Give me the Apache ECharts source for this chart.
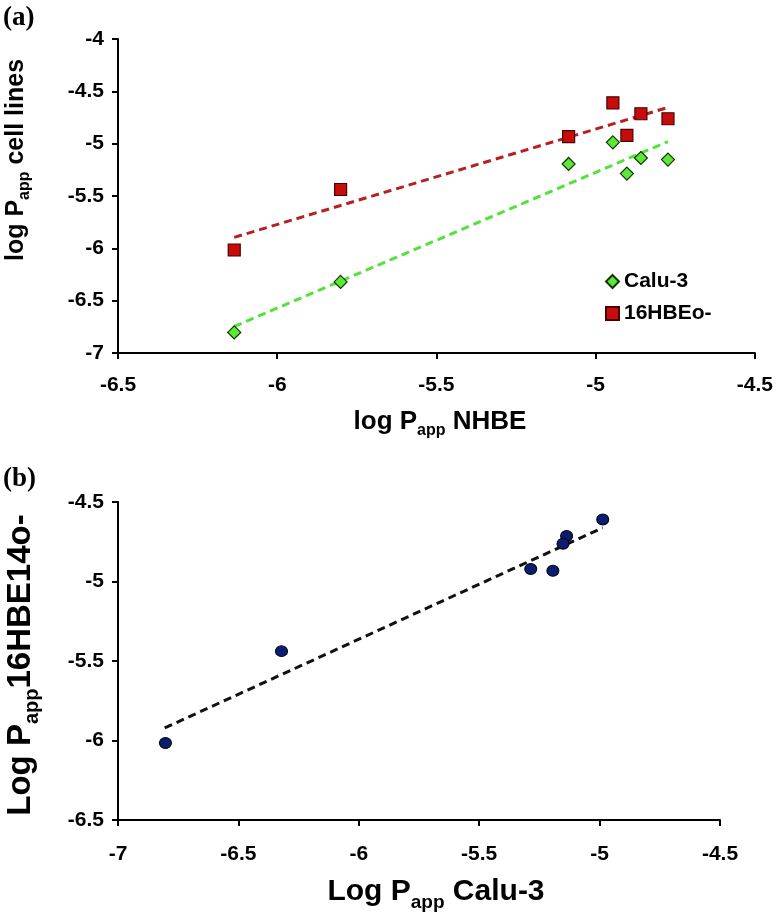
<!DOCTYPE html>
<html lang="en">
<head>
    <meta charset="UTF-8">
    <title>log Papp cell lines vs NHBE</title>
    <style>
        html, body {
            margin: 0;
            padding: 0;
            background: #ffffff;
        }
        #chart {
            width: 776px;
            height: 915px;
        }
    </style>
    <script src="https://cdn.jsdelivr.net/npm/echarts@6/dist/echarts.min.js"></script>
</head>
<body>
    <div id="chart"></div>
    <script>
        // log Papp values
        var nhbe = [-6.135, -5.801, -5.085, -4.946, -4.902, -4.858, -4.773];
        var calu3 = [-6.803, -6.321, -5.194, -4.987, -5.286, -5.137, -5.152];
        var hbe16 = [-6.016, -5.438, -4.933, -4.610, -4.921, -4.714, -4.762];

        // dashed trend lines, end points
        var trendCalu3 = [[-6.135, -6.746], [-4.773, -4.980]];
        var trendHbe16 = [[-6.135, -5.895], [-4.773, -4.654]];
        var trendB = [[-6.806, -5.921], [-4.987, -4.662]];

        function pairs(xs, ys) {
            return xs.map(function (x, i) { return [x, ys[i]]; });
        }

        var font = '"Liberation Sans", Arial, sans-serif';

        function valueAxis(grid, min, max) {
            return {
                type: 'value',
                gridIndex: grid,
                min: min,
                max: max,
                interval: 0.5,
                splitLine: { show: false },
                axisLine: { show: true, onZero: false, lineStyle: { color: '#000', width: 2 } },
                axisTick: { show: true, length: 6, lineStyle: { color: '#000', width: 2 } },
                axisLabel: { color: '#000', fontSize: 21, fontWeight: 'bold', fontFamily: font }
            };
        }

        function title(x, y, size, parts, rotate) {
            var sub = Math.round(size * 0.62);
            return {
                type: 'text',
                x: x,
                y: y,
                rotation: rotate ? Math.PI / 2 : 0,
                style: {
                    text: '{a|' + parts[0] + '}{s|app}{a|' + parts[1] + '}',
                    align: 'center',
                    verticalAlign: 'middle',
                    fill: '#000',
                    rich: {
                        a: { fontSize: size, fontWeight: 'bold', fontFamily: font, lineHeight: size + 4 },
                        s: { fontSize: sub, fontWeight: 'bold', fontFamily: font, lineHeight: sub,
                             padding: [Math.round(size * 0.7), 0, 0, 0] }
                    }
                }
            };
        }

        var xa = valueAxis(0, -6.5, -4.5);
        xa.axisLabel.margin = 22;
        var ya = valueAxis(0, -7, -4);
        ya.axisLabel.margin = 14;
        var xb = valueAxis(1, -7, -4.5);
        xb.axisLabel.margin = 24;
        var yb = valueAxis(1, -6.5, -4.5);
        yb.axisLabel.margin = 14;

        var chart = echarts.init(document.getElementById('chart'));
        var option = {
            animation: false,
            backgroundColor: '#fff',
            grid: [
                { left: 118, top: 39, width: 644, height: 314 },
                { left: 118, top: 502, width: 602, height: 318 }
            ],
            xAxis: [xa, xb],
            yAxis: [ya, yb],
            legend: {
                data: [
                    { name: 'Calu-3', icon: 'diamond' },
                    { name: '16HBEo-', icon: 'rect' }
                ],
                orient: 'vertical',
                left: 600,
                top: 266,
                itemWidth: 13,
                itemHeight: 13,
                itemGap: 11,
                textStyle: { color: '#000', fontSize: 21, fontWeight: 'bold', fontFamily: font }
            },
            graphic: [
                { type: 'text', left: 3, top: 5,
                  style: { text: '(a)', fontSize: 27, fontWeight: 'bold', fontFamily: '"Liberation Serif", "Times New Roman", serif', fill: '#000' } },
                { type: 'text', left: 3, top: 466,
                  style: { text: '(b)', fontSize: 27, fontWeight: 'bold', fontFamily: '"Liberation Serif", "Times New Roman", serif', fill: '#000' } },
                title(16, 160, 25, ['log P', ' cell lines'], true),
                title(440, 422, 26, ['log P', ' NHBE'], false),
                title(21, 665, 33, ['Log P', '16HBE14o-'], true),
                title(436, 892, 30, ['Log P', ' Calu-3'], false)
            ],
            series: [
                {
                    name: 'trend Calu-3',
                    type: 'line',
                    xAxisIndex: 0, yAxisIndex: 0,
                    data: trendCalu3,
                    symbol: 'none',
                    lineStyle: { color: '#55e03c', width: 3, type: [8, 5] },
                    z: 1
                },
                {
                    name: 'trend 16HBEo-',
                    type: 'line',
                    xAxisIndex: 0, yAxisIndex: 0,
                    data: trendHbe16,
                    symbol: 'none',
                    lineStyle: { color: '#b82020', width: 3, type: [8, 5] },
                    z: 1
                },
                {
                    name: 'Calu-3',
                    type: 'scatter',
                    xAxisIndex: 0, yAxisIndex: 0,
                    data: pairs(nhbe, calu3),
                    symbol: 'diamond',
                    symbolSize: 13,
                    itemStyle: { color: '#5be83a', borderColor: '#143300', borderWidth: 1.2, opacity: 1 },
                    z: 3
                },
                {
                    name: '16HBEo-',
                    type: 'scatter',
                    xAxisIndex: 0, yAxisIndex: 0,
                    data: pairs(nhbe, hbe16),
                    symbol: 'rect',
                    symbolSize: 12,
                    itemStyle: { color: '#c80c0c', borderColor: '#4a0000', borderWidth: 1.2, opacity: 1 },
                    z: 3
                },
                {
                    name: 'trend b',
                    type: 'line',
                    xAxisIndex: 1, yAxisIndex: 1,
                    data: trendB,
                    symbol: 'none',
                    lineStyle: { color: '#111', width: 3, type: [8, 5] },
                    z: 1
                },
                {
                    name: 'Calu-3 vs 16HBE14o-',
                    type: 'scatter',
                    xAxisIndex: 1, yAxisIndex: 1,
                    data: pairs(calu3, hbe16),
                    symbol: 'circle',
                    symbolSize: [12, 11],
                    itemStyle: { color: '#0b1c72', borderColor: '#000', borderWidth: 1, opacity: 1 },
                    z: 3
                }
            ]
        };
        chart.setOption(option);
    </script>
</body>
</html>
